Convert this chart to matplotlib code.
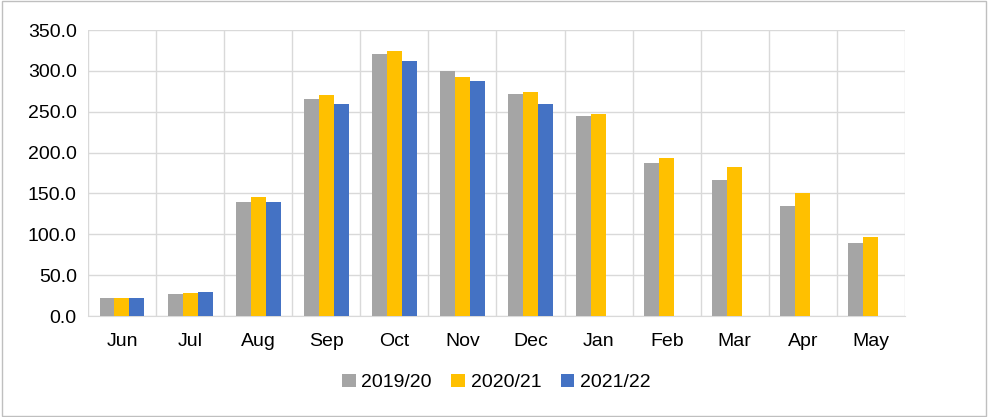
import matplotlib
matplotlib.use("Agg")
import matplotlib.pyplot as plt
import numpy as np

plt.rcParams['font.family'] = ['Liberation Sans', 'DejaVu Sans']

months = ["Jun","Jul","Aug","Sep","Oct","Nov","Dec","Jan","Feb","Mar","Apr","May"]
s1920 = [22,27,139,266,321,300,272,245,187,167,135,90]
s2021 = [22,28,146,271,324,293,274,247,193,183,151,97]
s2122 = [22,29,139,259,312,288,260]
labels = ["2019/20","2020/21","2021/22"]
colors = ["#A5A5A5","#FFC000","#4472C4"]

fig = plt.figure(figsize=(9.88,4.17), dpi=100)
fig.patches.append(plt.Rectangle((0.002,0.002),0.996,0.996,transform=fig.transFigure,fill=False,edgecolor="#BFBFBF",lw=1))
ax = fig.add_axes([0.089,0.242,0.827,0.686])
x = np.arange(len(months))
w = 0.22
for i,(s,c,l) in enumerate(zip([s1920,s2021,s2122],colors,labels)):
    ax.bar(x[:len(s)]+(i-1)*w, s, w, color=c, label=l, zorder=3)
ax.set_ylim(0,350)
ax.set_yticks(np.arange(0,351,50))
ax.set_yticklabels([f"{v:.1f}" for v in np.arange(0,351,50)])
ax.set_xlim(-0.5,11.5)
ax.set_xticks(x)
ax.set_xticklabels(months)
ax.set_xticks(np.arange(-0.5,12,1), minor=True)
ax.grid(axis="y",color="#D9D9D9",lw=1,zorder=0)
ax.grid(axis="x",which="minor",color="#D9D9D9",lw=1,zorder=0)
ax.grid(axis="x",which="major",visible=False)
for sp in ["top","right","left"]:
    ax.spines[sp].set_visible(False)
ax.spines["bottom"].set_color("#D9D9D9")
ax.tick_params(axis="both",which="both",length=0,labelsize=14,colors="#000000",pad=8)
ax.tick_params(axis="x",pad=12)
ax.legend(loc="upper center",bbox_to_anchor=(0.5,-0.14),ncol=3,frameon=False,fontsize=14,handlelength=0.7,handleheight=0.7,columnspacing=1.0,handletextpad=0.3)
fig.savefig("out.png",dpi=100)
